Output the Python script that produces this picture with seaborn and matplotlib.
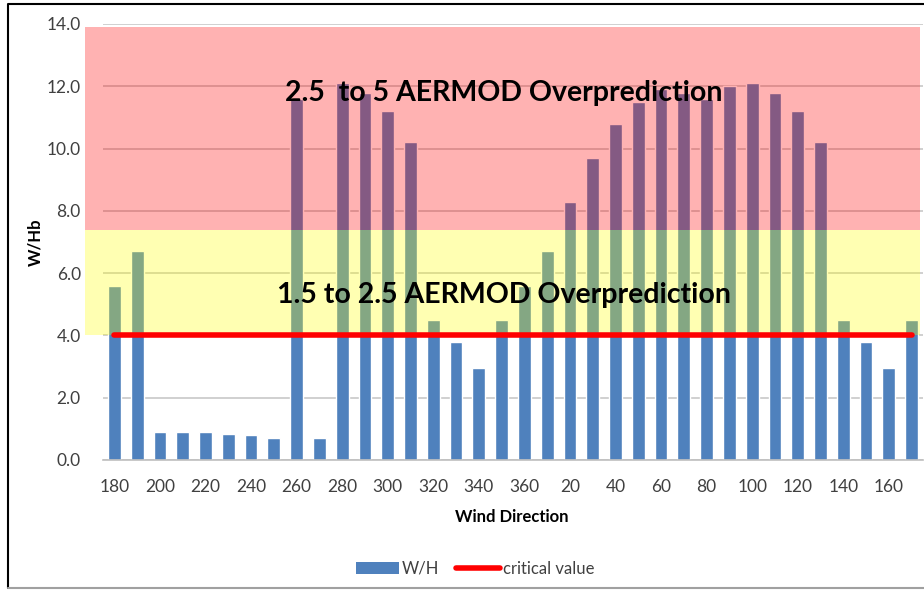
import numpy as np
import seaborn as sns
import matplotlib.pyplot as plt
import matplotlib.transforms as mtransforms
from matplotlib.patches import Rectangle, Patch
from matplotlib.lines import Line2D

# wind direction bins (deg) and W/H ratio
directions = [180, 190, 200, 210, 220, 230, 240, 250, 260, 270, 280, 290, 300, 310,
              320, 330, 340, 350, 360, 10, 20, 30, 40, 50, 60, 70, 80, 90, 100, 110,
              120, 130, 140, 150, 160, 170]
wh_ratio = [5.6, 6.7, 0.9, 0.9, 0.9, 0.85, 0.8, 0.7, 11.6, 0.7, 12.1, 11.8, 11.2, 10.2,
            4.5, 3.8, 2.95, 4.5, 5.6, 6.7, 8.3, 9.7, 10.8, 11.5, 11.9, 11.8, 11.6, 12.0,
            12.1, 11.8, 11.2, 10.2, 4.5, 3.8, 2.95, 4.5]
critical_value = 4.0

# shaded overprediction bands: (low, high, colour, label)
band_low = [4.0, 7.4]
band_high = [7.4, 13.9]
band_colors = ["#ffff00", "#ff0000"]
band_labels = ["1.5 to 2.5 AERMOD Overprediction", "2.5  to 5 AERMOD Overprediction"]
band_label_y = [5.3, 11.8]

yticks = [0, 2, 4, 6, 8, 10, 12, 14]

sns.set_style("white")
plt.rcParams['font.family'] = ['Lato', 'DejaVu Sans']

fig = plt.figure(figsize=(9.24, 5.90), dpi=100)
ax = fig.add_axes([103 / 924, 1 - 460 / 590, 820 / 924, 436 / 590])

labels = [str(d) for d in directions]
pos = np.arange(len(directions))
sns.barplot(x=pos, y=wh_ratio, color="#4f81bd", saturation=1, width=0.56,
            native_scale=False, ax=ax, zorder=2)
sns.lineplot(x=pos, y=[critical_value] * len(directions), color="#ff0000",
             linewidth=4, ax=ax, zorder=4)

# bands sit on top of bars with transparency, and stick out left of the axes
trans = mtransforms.blended_transform_factory(ax.transAxes, ax.transData)
for lo, hi, c in zip(band_low, band_high, band_colors):
    ax.add_patch(Rectangle((-0.022, lo), 1.018, hi - lo, transform=trans,
                           facecolor=c, alpha=0.3, edgecolor="none",
                           clip_on=False, zorder=3))
for txt, yy in zip(band_labels, band_label_y):
    ax.text(17.1, yy, txt, ha="center", va="center", fontsize=20.5,
            fontweight="bold", color="black", zorder=5)

ax.set_xlim(-0.5, len(directions) - 0.5)
ax.set_ylim(0, 14)
ax.set_yticks(yticks)
ax.set_yticklabels([f"{t:.1f}" for t in yticks])
ax.set_xticks(pos[::2])
ax.set_xticklabels(labels[::2])
ax.tick_params(axis="both", labelsize=12.5, labelcolor="#404040", length=0)
ax.tick_params(axis="x", pad=14)
ax.tick_params(axis="y", pad=16)

ax.yaxis.grid(True, color="#c8c8c8", linewidth=1.2, zorder=0)
ax.set_axisbelow(True)
for s in ["left", "right", "top"]:
    ax.spines[s].set_visible(False)
ax.spines["bottom"].set_color("#bfbfbf")
ax.spines["bottom"].set_linewidth(1.2)

ax.set_xlabel("Wind Direction", fontsize=12, fontweight="bold", color="black")
ax.xaxis.label.set_va("center")
ax.xaxis.set_label_coords(0.499, -0.131)
ax.set_ylabel("W/Hb", fontsize=12, fontweight="bold", color="black")
ax.yaxis.label.set_va("center")
ax.yaxis.set_label_coords(-0.083, 0.50)

handles = [Patch(facecolor="#4f81bd", edgecolor="none"),
           Line2D([0], [0], color="#ff0000", linewidth=4)]
fig.legend(handles, ["W/H", "critical value"], loc="center",
           bbox_to_anchor=(475 / 924, 1 - 569 / 590), ncol=2, frameon=False,
           fontsize=12, handlelength=2.6, handletextpad=0.2, columnspacing=1.0,
           labelcolor="#404040")

# outer chart frame: black left/top, light grey bottom
fig.add_artist(Line2D([8 / 924, 8 / 924, 1.0], [2 / 590, 586 / 590, 586 / 590],
                      transform=fig.transFigure, color="black", linewidth=1.5))
fig.add_artist(Line2D([8 / 924, 1.0], [2 / 590, 2 / 590],
                      transform=fig.transFigure, color="#a0a0a0", linewidth=1.5))

fig.savefig("out.png", dpi=100)
